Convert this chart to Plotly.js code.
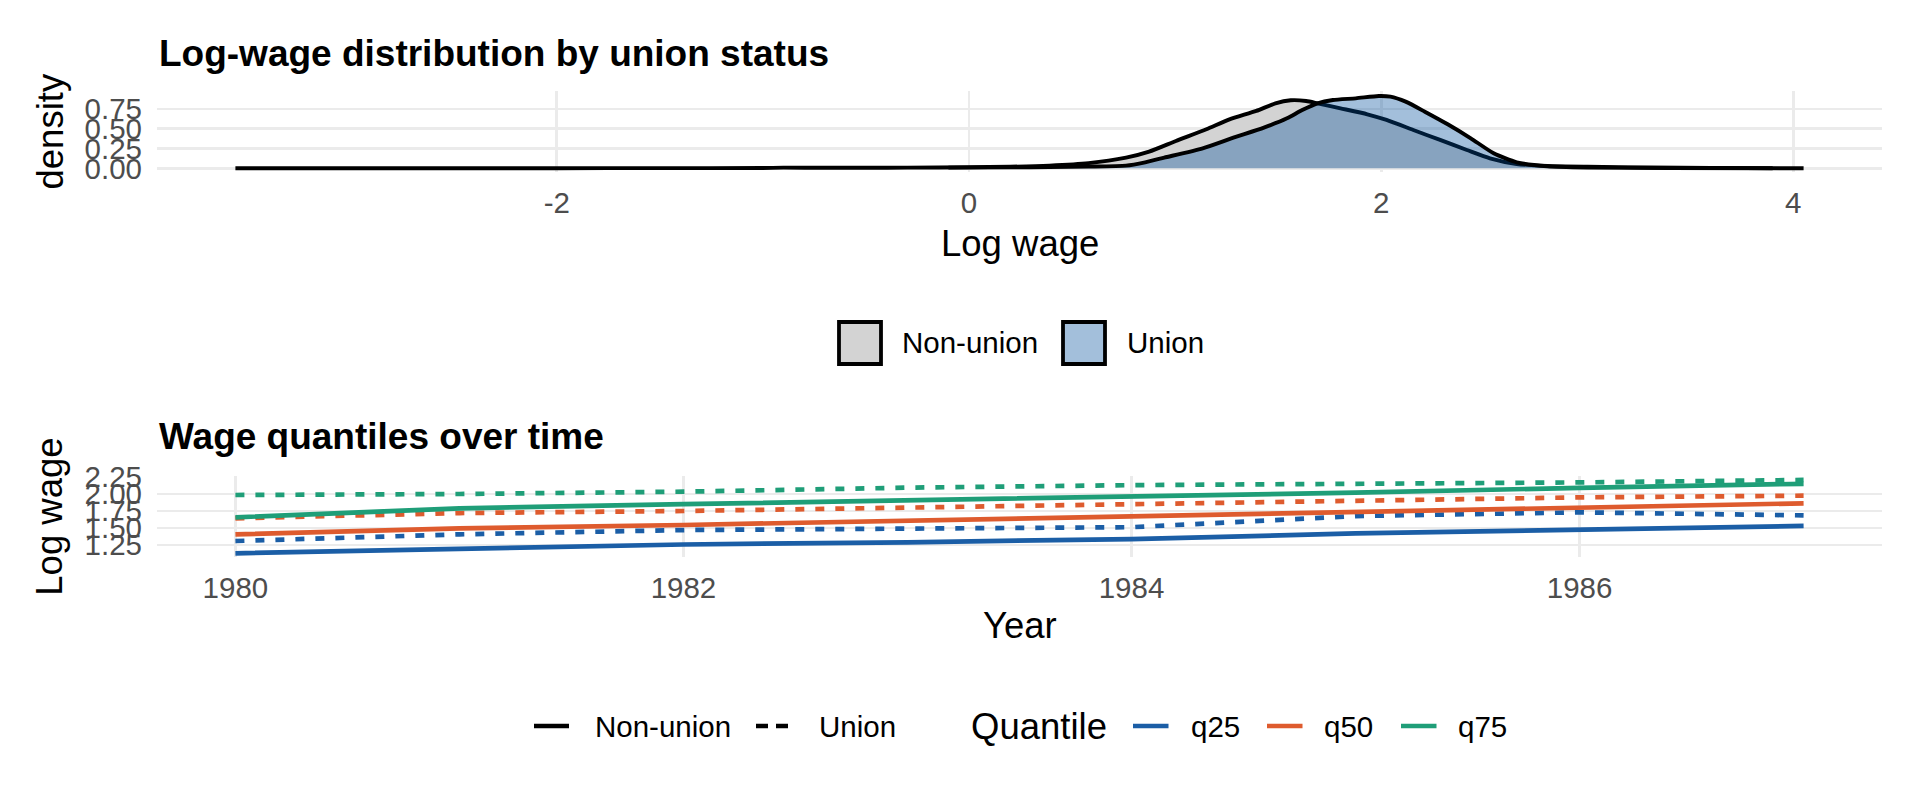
<!DOCTYPE html>
<html>
<head>
<meta charset="utf-8">
<script src="https://cdn.plot.ly/plotly-3.0.1.min.js"></script>
<style>html,body{margin:0;padding:0;background:#fff;}#chart{width:1920px;height:806px;}</style>
</head>
<body>
<div id="chart"></div>
<script>
// ---------- data: density of log wage ----------
const nonunionX = [-3.56,-3.0,-2.5,-2.0,-1.5,-1.0,-0.9,-0.7,-0.5,-0.3,0.0,0.2,0.39,0.58,0.762,0.874,1.004,1.152,1.264,1.394,1.487,1.561,1.636,1.691,1.803,1.933,2.026,2.156,2.286,2.416,2.528,2.658,2.807,3.0,3.3,3.6,4.05];
const nonunionY = [0.0,0.0,0.0,0.001,0.002,0.004,0.008,0.006,0.006,0.008,0.014,0.02,0.034,0.065,0.135,0.211,0.346,0.494,0.62,0.726,0.823,0.861,0.852,0.823,0.759,0.684,0.612,0.485,0.359,0.232,0.127,0.055,0.03,0.02,0.01,0.005,0.0];
const unionX = [-0.1,0.2,0.39,0.58,0.762,0.855,0.948,1.134,1.283,1.431,1.543,1.617,1.691,1.766,1.877,1.989,2.045,2.119,2.212,2.323,2.435,2.546,2.658,2.807,3.0,3.4,3.9];
const unionY = [0.008,0.012,0.016,0.022,0.034,0.076,0.135,0.253,0.388,0.515,0.633,0.738,0.823,0.865,0.886,0.916,0.907,0.844,0.717,0.557,0.38,0.19,0.076,0.025,0.01,0.003,0.0];

// ---------- data: wage quantiles over time ----------
const years = [1980,1981,1982,1983,1984,1985,1986,1987];
const q25Nonunion = [1.128,1.196,1.258,1.290,1.338,1.420,1.480,1.530];
const q50Nonunion = [1.407,1.495,1.544,1.605,1.680,1.740,1.800,1.863];
const q75Nonunion = [1.657,1.790,1.850,1.905,1.960,2.020,2.090,2.150];
const q25Union    = [1.309,1.407,1.470,1.495,1.512,1.676,1.730,1.686];
const q50Union    = [1.642,1.720,1.750,1.800,1.853,1.910,1.950,1.975];
const q75Union    = [1.985,2.000,2.034,2.093,2.130,2.147,2.170,2.206];

// ---------- tick labels ----------
const densXTicks = [-2,0,2,4];
const densXLabels = ["-2","0","2","4"];
const densYTicks = [0,0.25,0.5,0.75];
const densYLabels = ["0.00","0.25","0.50","0.75"];
const yearTicks = [1980,1982,1984,1986];
const yearLabels = ["1980","1982","1984","1986"];
const wageTicks = [1.25,1.5,1.75,2.0,2.25];
const wageLabels = ["1.25","1.50","1.75","2.00","2.25"];

const groupNames = ["Non-union","Union"];
const quantileNames = ["q25","q50","q75"];
const quantileColors = ["#1B5EA6","#DE5B2E","#1F9E78"];

// ---------- layout helpers ----------
const W = 1920, H = 806;
const px = v => v / W;
const py = v => 1 - v / H;
const FONT = "Liberation Sans, Arial, Helvetica, sans-serif";
const UNION_DASH = "9px,11px";
const unionFill = "rgba(0,77,155,0.36)";
const nonunionFill = "#d3d3d3";
const QW = 4.7;

const traces = [
  {x: nonunionX, y: nonunionY, type: "scatter", mode: "lines", fill: "tozeroy",
   fillcolor: nonunionFill, line: {color: "#000", width: 3.9, shape: "spline", smoothing: 0.6},
   xaxis: "x", yaxis: "y", showlegend: false, hoverinfo: "skip"},
  {x: unionX, y: unionY, type: "scatter", mode: "lines", fill: "tozeroy",
   fillcolor: unionFill, line: {color: "#000", width: 3.9, shape: "spline", smoothing: 0.6},
   xaxis: "x", yaxis: "y", showlegend: false, hoverinfo: "skip"}
];

const nonunionSeries = [q25Nonunion, q50Nonunion, q75Nonunion];
const unionSeries = [q25Union, q50Union, q75Union];
for (let i = 0; i < 3; i++) {
  traces.push({x: years, y: nonunionSeries[i], type: "scatter", mode: "lines",
    line: {color: quantileColors[i], width: QW}, xaxis: "x2", yaxis: "y2", showlegend: false, hoverinfo: "skip"});
  traces.push({x: years, y: unionSeries[i], type: "scatter", mode: "lines",
    line: {color: quantileColors[i], width: QW, dash: UNION_DASH}, xaxis: "x2", yaxis: "y2", showlegend: false, hoverinfo: "skip"});
}

const tickFont = {family: FONT, size: 29.5, color: "#4d4d4d"};
const gridColor = "#ebebeb";
const axisCommon = {showgrid: true, gridcolor: gridColor, gridwidth: 2.8, zeroline: false,
  showline: false, ticks: "", tickfont: tickFont, fixedrange: true};

const annotations = [];
function txt(text, x, y, size, opts) {
  annotations.push(Object.assign({text: text, x: px(x), y: py(y), xref: "paper", yref: "paper",
    showarrow: false, xanchor: "center", yanchor: "middle",
    font: {family: FONT, size: size, color: "#000"}}, opts || {}));
}
// titles
txt("Log-wage distribution by union status", 157, 54, 37, {xanchor: "left", font: {family: FONT, size: 37, color: "#000", weight: "bold"}});
txt("Wage quantiles over time", 157, 437, 37, {xanchor: "left", font: {family: FONT, size: 37, color: "#000", weight: "bold"}});
// axis titles
txt("Log wage", 1019.5, 243, 36.5);
txt("density", 50, 131.5, 36.5, {textangle: -90});
txt("Year", 1019.5, 625, 36.5);
txt("Log wage", 50, 516.7, 36.5, {textangle: -90});

// manual legends
const shapes = [];
// top legend (fill keys)
const topKeys = [[839, 881, nonunionFill], [1063, 1105, unionFill]];
topKeys.forEach(k => shapes.push({type: "rect", xref: "paper", yref: "paper",
  x0: px(k[0]), x1: px(k[1]), y0: py(364), y1: py(322), fillcolor: k[2], line: {color: "#000", width: 3.8}}));
txt(groupNames[0], 900, 343, 29.5, {xanchor: "left"});
txt(groupNames[1], 1125, 343, 29.5, {xanchor: "left"});
// bottom legend: linetype
const LY = 726;
shapes.push({type: "line", xref: "paper", yref: "paper", x0: px(534), x1: px(569), y0: py(LY), y1: py(LY), line: {color: "#000", width: QW}});
shapes.push({type: "line", xref: "paper", yref: "paper", x0: px(756), x1: px(788), y0: py(LY), y1: py(LY), line: {color: "#000", width: QW, dash: "12px,8px"}});
txt(groupNames[0], 593, LY, 29.5, {xanchor: "left"});
txt(groupNames[1], 817, LY, 29.5, {xanchor: "left"});
// bottom legend: quantile colours
txt("Quantile", 969, LY, 36.5, {xanchor: "left"});
const qKeyX = [1133, 1267, 1401];
const qTextX = [1189, 1322, 1456];
for (let i = 0; i < 3; i++) {
  shapes.push({type: "line", xref: "paper", yref: "paper", x0: px(qKeyX[i]), x1: px(qKeyX[i] + 35.5),
    y0: py(LY), y1: py(LY), line: {color: quantileColors[i], width: QW}});
  txt(quantileNames[i], qTextX[i], LY, 29.5, {xanchor: "left"});
}

const layout = {
  width: W, height: H,
  margin: {l: 0, r: 0, t: 0, b: 0},
  paper_bgcolor: "#fff", plot_bgcolor: "#fff",
  showlegend: false, hovermode: false,
  font: {family: FONT},
  xaxis: Object.assign({}, axisCommon, {domain: [px(157), px(1882)], range: [-3.9405, 4.4305],
    tickvals: densXTicks, ticktext: densXLabels, anchor: "y", ticklabelstandoff: 10}),
  yaxis: Object.assign({}, axisCommon, {domain: [py(172), py(90.9)], range: [-0.047, 0.98],
    tickvals: densYTicks, ticktext: densYLabels, anchor: "x", ticklabelstandoff: 14}),
  xaxis2: Object.assign({}, axisCommon, {domain: [px(157), px(1882)], range: [1979.65, 1987.35],
    tickvals: yearTicks, ticktext: yearLabels, anchor: "y2", ticklabelstandoff: 10}),
  yaxis2: Object.assign({}, axisCommon, {domain: [py(557), py(476.3)], range: [1.074, 2.26],
    tickvals: wageTicks, ticktext: wageLabels, anchor: "x2", ticklabelstandoff: 14}),
  annotations: annotations,
  shapes: shapes
};

Plotly.newPlot("chart", traces, layout, {displayModeBar: false, staticPlot: true});
</script>
</body>
</html>
